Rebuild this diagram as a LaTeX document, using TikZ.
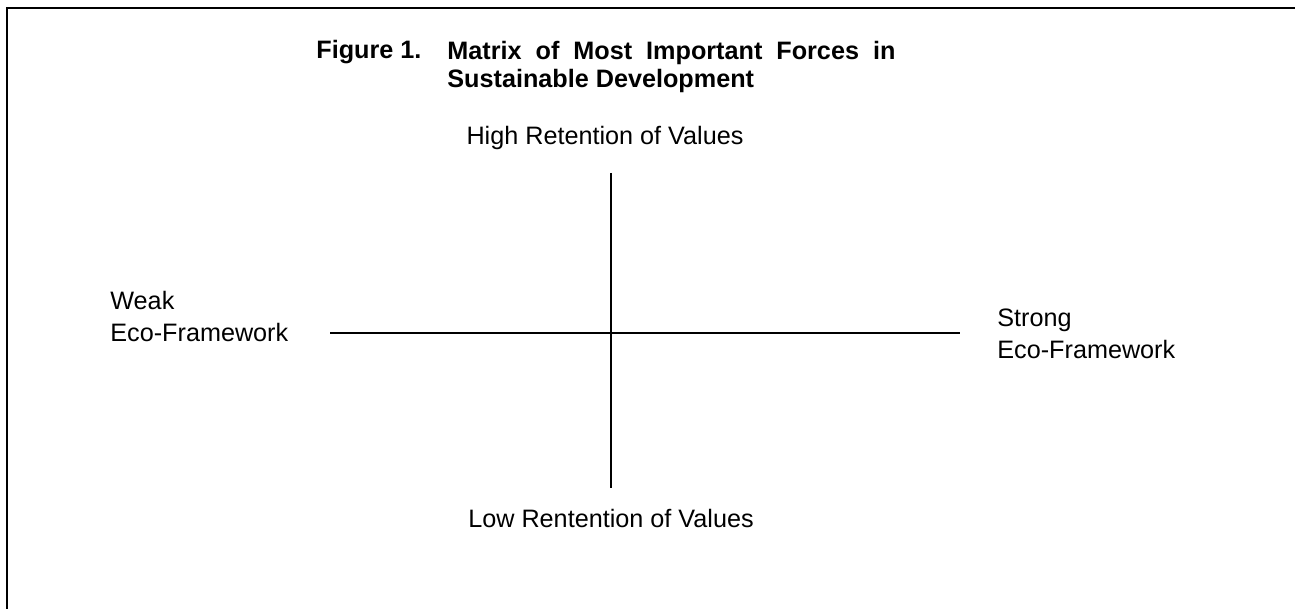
\documentclass[tikz,border=0pt]{standalone}
\usepackage{fontspec}
\setmainfont{Liberation Sans}
\usepackage{tikz}
\usetikzlibrary{calc}

\tikzset{
  etichetta/.style={font=\fontsize{12.6}{16}\selectfont, inner sep=0pt},
  titolo/.style={font=\fontsize{12.6}{14}\selectfont\bfseries, inner sep=0pt},
  asse/.style={line width=0.75pt}
}

\begin{document}
\begin{tikzpicture}[x=0.5pt, y=-0.5pt, line cap=butt, line join=miter]

\useasboundingbox (0,0) rectangle (1295,609);

% cornice
\draw[line width=1pt] (7,609) -- (7,8) -- (1295,8);

% titolo
\node[titolo, anchor=base west] (fig) at (316,59) {Figure 1.};
\node[titolo, anchor=north west, align=left] (tit) at (447,41)
  {Matrix \ of \ Most \ Important \ Forces \ in\\Sustainable Development};

% estremi degli assi
\coordinate (N) at (611,173);
\coordinate (S) at (611,488);
\coordinate (W) at (330,333);
\coordinate (E) at (960,333);

% assi
\draw[asse] (N) -- (S);
\draw[asse] (W) -- (E);

% etichette
\node[etichetta, anchor=base] (alto) at (605,145) {High Retention of Values};
\node[etichetta, anchor=base] (basso) at (611,527) {Low Rentention of Values};
\node[etichetta, anchor=north west, align=left] (debole) at (110,291) {Weak\\Eco-Framework};
\node[etichetta, anchor=north west, align=left] (forte) at (997,309) {Strong\\Eco-Framework};

\end{tikzpicture}
\end{document}
